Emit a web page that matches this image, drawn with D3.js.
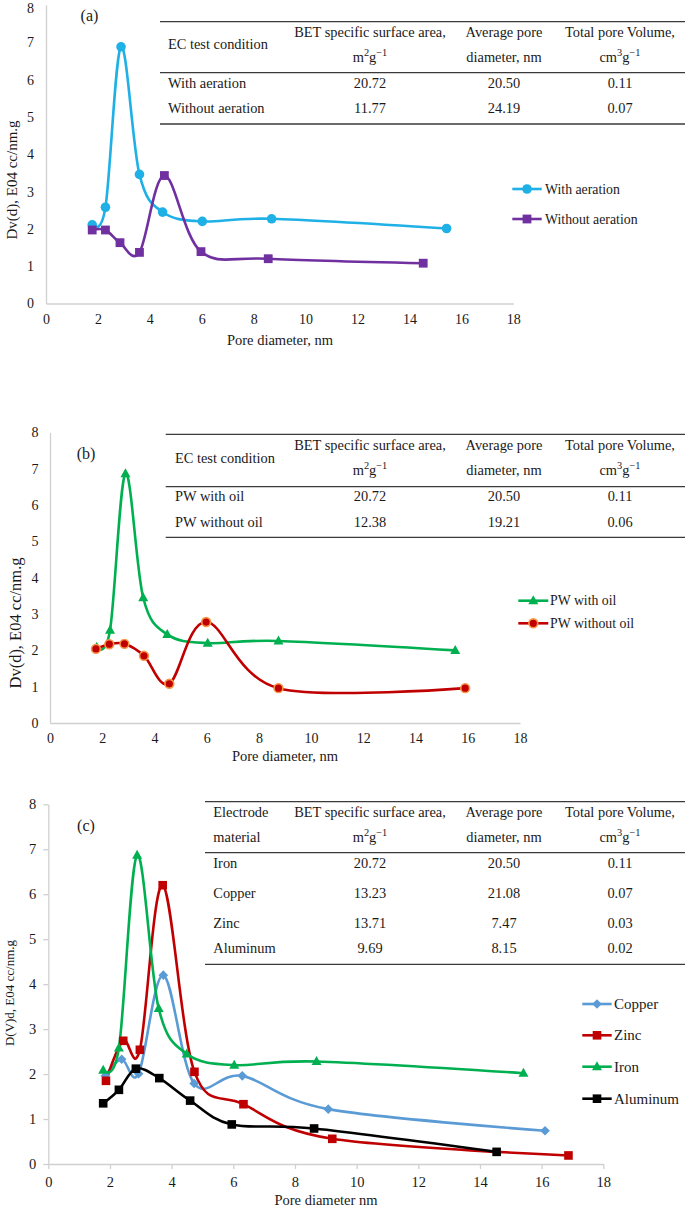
<!DOCTYPE html>
<html>
<head>
<meta charset="utf-8">
<script src="https://cdn.jsdelivr.net/npm/d3@7"></script>
<style>
  html, body { margin: 0; padding: 0; background: #fff; }
  svg { display: block; font-family: "Liberation Serif", "Times New Roman", serif; }
</style>
</head>
<body>
<svg id="chart" width="685" height="1207"></svg>
<script>
// ---------------- DATA ----------------
const xTicks = [0, 2, 4, 6, 8, 10, 12, 14, 16, 18];
const yTicks = [0, 1, 2, 3, 4, 5, 6, 7, 8];

// Panel (a)
const aWithX = [1.78, 2.29, 2.89, 3.60, 4.49, 6.02, 8.69, 15.43];
const aWithY = [2.11, 2.58, 6.88, 3.46, 2.45, 2.20, 2.27, 2.01];
const aWithoutX = [1.78, 2.29, 2.85, 3.60, 4.56, 5.97, 8.56, 14.53];
const aWithoutY = [1.97, 1.97, 1.63, 1.37, 3.43, 1.39, 1.20, 1.08];
const aSeriesNames = ["With aeration", "Without aeration"];
const aTableHead = ["EC test condition", "BET specific surface area,", "Average pore", "Total pore Volume,"];
const aTableHead2 = ["", "m2g-1", "diameter, nm", "cm3g-1"];
const aRowLabels = ["With aeration", "Without aeration"];
const aBET = ["20.72", "11.77"];
const aPore = ["20.50", "24.19"];
const aVol = ["0.11", "0.07"];

// Panel (b)
const bOilX = [1.79, 2.30, 2.89, 3.57, 4.49, 6.04, 8.75, 15.52];
const bOilY = [2.09, 2.56, 6.87, 3.45, 2.44, 2.20, 2.26, 2.00];
const bNoOilX = [1.76, 2.27, 2.85, 3.60, 4.57, 5.98, 8.75, 15.90];
const bNoOilY = [2.04, 2.17, 2.18, 1.85, 1.08, 2.78, 0.96, 0.96];
const bSeriesNames = ["PW with oil", "PW without oil"];
const bRowLabels = ["PW with oil", "PW without oil"];
const bBET = ["20.72", "12.38"];
const bPore = ["20.50", "19.21"];
const bVol = ["0.11", "0.06"];

// Panel (c)
const cCopperX = [1.85, 2.38, 2.93, 3.73, 4.73, 6.29, 9.08, 16.11];
const cCopperY = [1.96, 2.33, 2.01, 4.20, 1.79, 1.96, 1.22, 0.74];
const cZincX = [1.87, 2.43, 2.97, 3.71, 4.74, 6.33, 9.21, 16.87];
const cZincY = [1.85, 2.74, 2.54, 6.20, 2.05, 1.33, 0.56, 0.19];
const cIronX = [1.78, 2.29, 2.88, 3.58, 4.49, 6.03, 8.70, 15.41];
const cIronY = [2.09, 2.58, 6.87, 3.46, 2.45, 2.20, 2.28, 2.02];
const cAlX = [1.78, 2.29, 2.84, 3.60, 4.60, 5.95, 8.62, 14.54];
const cAlY = [1.35, 1.65, 2.12, 1.91, 1.41, 0.88, 0.79, 0.27];
const cSeriesNames = ["Copper", "Zinc", "Iron", "Aluminum"];
const cTableHead = ["Electrode", "BET specific surface area,", "Average pore", "Total pore Volume,"];
const cTableHead2 = ["material", "m2g-1", "diameter, nm", "cm3g-1"];
const cRowLabels = ["Iron", "Copper", "Zinc", "Aluminum"];
const cBET = ["20.72", "13.23", "13.71", "9.69"];
const cPore = ["20.50", "21.08", "7.47", "8.15"];
const cVol = ["0.11", "0.07", "0.03", "0.02"];

// ---------------- DRAW ----------------
const svg = d3.select("#chart");
const AXIS = "#d0d0d0";
const TXT = "#1a1a1a";
const FONT = "Liberation Serif";

function zip(xs, ys) { return xs.map((x, i) => ({x: x, y: ys[i]})); }

function marker(g, type, cx, cy, st) {
  if (type === "circle") {
    g.append("circle").attr("cx", cx).attr("cy", cy).attr("r", st.r || 4.6)
      .attr("fill", st.fill).attr("stroke", st.stroke || "none").attr("stroke-width", st.sw || 0);
  } else if (type === "square") {
    const s = st.s || 8.6;
    g.append("rect").attr("x", cx - s / 2).attr("y", cy - s / 2).attr("width", s).attr("height", s)
      .attr("fill", st.fill);
  } else if (type === "triangle") {
    const s = st.s || 10;
    const h = s * 0.9;
    g.append("path").attr("d", `M${cx},${cy - h * 0.6}L${cx + s / 2},${cy + h * 0.4}L${cx - s / 2},${cy + h * 0.4}Z`)
      .attr("fill", st.fill);
  } else if (type === "diamond") {
    const s = st.s || 4.8;
    g.append("path").attr("d", `M${cx},${cy - s}L${cx + s},${cy}L${cx},${cy + s}L${cx - s},${cy}Z`)
      .attr("fill", st.fill);
  }
}

function superText(sel, s) {
  const m = s.match(/^([a-z]+)(\d)(g)(-1)$/);
  if (!m) { sel.text(s); return; }
  sel.append("tspan").text(m[1]);
  sel.append("tspan").text(m[2]).attr("font-size", "0.72em").attr("dy", "-0.45em");
  sel.append("tspan").text(m[3]).attr("dy", "0.32em");
  sel.append("tspan").text("\u22121").attr("font-size", "0.72em").attr("dy", "-0.45em");
}

function txt(g, x, y, s, fs, anchor) {
  return g.append("text").attr("x", x).attr("y", y).attr("text-anchor", anchor || "start")
    .attr("dominant-baseline", "central").attr("font-family", FONT)
    .attr("font-size", fs).attr("fill", TXT).text(s);
}

function drawPanel(p) {
  const g = svg.append("g");
  const x = d3.scaleLinear().domain([0, 18]).range([p.x0, p.x1]);
  const y = d3.scaleLinear().domain([0, 8]).range([p.y0, p.y1]);

  const xa = g.append("g").attr("transform", `translate(0,${p.y0})`)
    .call(d3.axisBottom(x).tickValues(xTicks).tickSize(p.tick).tickSizeOuter(0).tickPadding(p.xpad));
  const ya = g.append("g").attr("transform", `translate(${p.x0},0)`)
    .call(d3.axisLeft(y).tickValues(yTicks).tickSize(p.tick).tickSizeOuter(0).tickPadding(p.ypad));
  [xa, ya].forEach(a => {
    a.attr("font-family", FONT);
    a.select(".domain").attr("stroke", AXIS).attr("stroke-width", 1.3);
    a.selectAll(".tick line").attr("stroke", AXIS).attr("stroke-width", 1.3);
    a.selectAll(".tick text").attr("fill", TXT).attr("font-family", FONT)
      .attr("font-size", p.tickFs);
  });
  // keep the top tick label inside the page
  ya.selectAll(".tick text").filter(d => y(d) - p.tickFs * 0.5 < 0)
    .attr("dy", "0.55em");

  // axis titles
  txt(g, p.xtX, p.xtY, p.xTitle, p.xtFs, "middle");
  g.append("text").attr("transform", `translate(${p.ytX},${p.ytY}) rotate(-90)`)
    .attr("text-anchor", "middle").attr("dominant-baseline", "central").attr("font-family", FONT)
    .attr("font-size", p.ytFs).attr("fill", TXT).text(p.yTitle);

  // panel label
  txt(g, p.lab[0], p.lab[1], p.label, 16, "middle");

  // series
  const line = d3.line().x(d => x(d.x)).y(d => y(d.y)).curve(d3.curveCardinal.tension(0));
  p.series.forEach(s => {
    g.append("path").datum(s.data).attr("d", line).attr("fill", "none")
      .attr("stroke", s.color).attr("stroke-width", 2.6).attr("stroke-linejoin", "round");
  });
  p.series.forEach(s => {
    s.data.forEach(d => marker(g, s.shape, x(d.x), y(d.y), s.mk));
  });

  // legend
  p.series.forEach((s, i) => {
    const ly = p.leg.ys[i];
    g.append("line").attr("x1", p.leg.l0).attr("x2", p.leg.l1).attr("y1", ly).attr("y2", ly)
      .attr("stroke", s.color).attr("stroke-width", 2.6);
    marker(g, s.shape, (p.leg.l0 + p.leg.l1) / 2, ly, s.mk);
    txt(g, p.leg.tx, ly, s.name, p.leg.fs);
  });

  // table
  const t = p.table;
  const tg = g.append("g");
  [t.top, t.mid, t.bot].forEach(yy => {
    tg.append("line").attr("x1", t.left).attr("x2", 685).attr("y1", yy).attr("y2", yy)
      .attr("stroke", "#3a3a3a").attr("stroke-width", 1.3);
  });
  const cols = [null, 370, 504, 620];
  const fs = 14.4;
  if (t.head2[0]) {
    txt(tg, t.textX, t.h1, t.head[0], fs);
    txt(tg, t.textX, t.h2, t.head2[0], fs);
  } else {
    txt(tg, t.textX, (t.h1 + t.h2) / 2, t.head[0], fs);
  }
  for (let c = 1; c < 4; c++) {
    txt(tg, cols[c], t.h1, t.head[c], fs, "middle");
    const h2 = tg.append("text").attr("x", cols[c]).attr("y", t.h2).attr("text-anchor", "middle")
      .attr("dominant-baseline", "central").attr("font-family", FONT).attr("font-size", fs).attr("fill", TXT);
    superText(h2, t.head2[c]);
  }
  t.rows.forEach((r, i) => {
    const ry = t.rowY[i];
    txt(tg, t.textX, ry, r, fs);
    [t.bet[i], t.pore[i], t.vol[i]].forEach((v, k) => {
      txt(tg, cols[k + 1], ry, v, fs, "middle");
    });
  });
}

// Panel (a)
drawPanel({
  x0: 46, x1: 513.3, y0: 303.5, y1: 5, tick: 0, xpad: 11, ypad: 12, tickFs: 14,
  xTitle: "Pore diameter, nm", xtX: 280, xtY: 340, xtFs: 14.5,
  yTitle: "Dv(d), E04 cc/nm.g", ytX: 12, ytY: 180, ytFs: 15,
  label: "(a)", lab: [89.5, 15],
  series: [
    {name: aSeriesNames[0], data: zip(aWithX, aWithY), color: "#1fb0e6", shape: "circle", mk: {fill: "#1fb0e6", r: 4.8}},
    {name: aSeriesNames[1], data: zip(aWithoutX, aWithoutY), color: "#7030a0", shape: "square", mk: {fill: "#7030a0", s: 8.8}}
  ],
  leg: {l0: 512.3, l1: 541.7, tx: 545, fs: 13.8, ys: [189, 219]},
  table: {left: 160, textX: 168, top: 21.7, mid: 72.7, bot: 124, h1: 31.7, h2: 56.7,
    head: aTableHead, head2: aTableHead2, rows: aRowLabels, rowY: [82.7, 107.7], bet: aBET, pore: aPore, vol: aVol}
});

// Panel (b)
drawPanel({
  x0: 50, x1: 520, y0: 723, y1: 432.5, tick: 0, xpad: 10, ypad: 11.5, tickFs: 14,
  xTitle: "Pore diameter, nm", xtX: 285, xtY: 756, xtFs: 14.5,
  yTitle: "Dv(d), E04 cc/nm.g", ytX: 15, ytY: 623, ytFs: 16.5,
  label: "(b)", lab: [86, 453.3],
  series: [
    {name: bSeriesNames[0], data: zip(bOilX, bOilY), color: "#00b050", shape: "triangle", mk: {fill: "#00b050", s: 10}},
    {name: bSeriesNames[1], data: zip(bNoOilX, bNoOilY), color: "#c00000", shape: "circle", mk: {fill: "#c00000", stroke: "#f79646", sw: 1.6, r: 4.4}}
  ],
  leg: {l0: 518.3, l1: 548.3, tx: 550, fs: 13.8, ys: [600.7, 623.3]},
  table: {left: 165.7, textX: 175, top: 434.3, mid: 486.7, bot: 537.3, h1: 445, h2: 470,
    head: aTableHead, head2: aTableHead2, rows: bRowLabels, rowY: [496, 521.7], bet: bBET, pore: bPore, vol: bVol}
});

// Panel (c)
drawPanel({
  x0: 48.3, x1: 603.3, y0: 1164, y1: 804.3, tick: 5, xpad: 7.5, ypad: 7, tickFs: 14.5,
  xTitle: "Pore diameter  nm", xtX: 326, xtY: 1200, xtFs: 14.5,
  yTitle: "D(V)d, E04 cc/nm.g", ytX: 9, ytY: 993, ytFs: 13,
  label: "(c)", lab: [86, 825],
  series: [
    {name: cSeriesNames[0], data: zip(cCopperX, cCopperY), color: "#5b9bd5", shape: "diamond", mk: {fill: "#5b9bd5", s: 4.8}},
    {name: cSeriesNames[1], data: zip(cZincX, cZincY), color: "#c00000", shape: "square", mk: {fill: "#c00000", s: 8.6}},
    {name: cSeriesNames[2], data: zip(cIronX, cIronY), color: "#00b050", shape: "triangle", mk: {fill: "#00b050", s: 10}},
    {name: cSeriesNames[3], data: zip(cAlX, cAlY), color: "#000000", shape: "square", mk: {fill: "#000000", s: 8.6}}
  ],
  leg: {l0: 582.3, l1: 611.7, tx: 614, fs: 15, ys: [1004, 1035.3, 1066.7, 1098.7]},
  table: {left: 205, textX: 213.3, top: 801.7, mid: 852.7, bot: 964.3, h1: 811.7, h2: 836.7,
    head: cTableHead, head2: cTableHead2, rows: cRowLabels, rowY: [862.7, 893.3, 923.3, 948.3], bet: cBET, pore: cPore, vol: cVol}
});
</script>
</body>
</html>
